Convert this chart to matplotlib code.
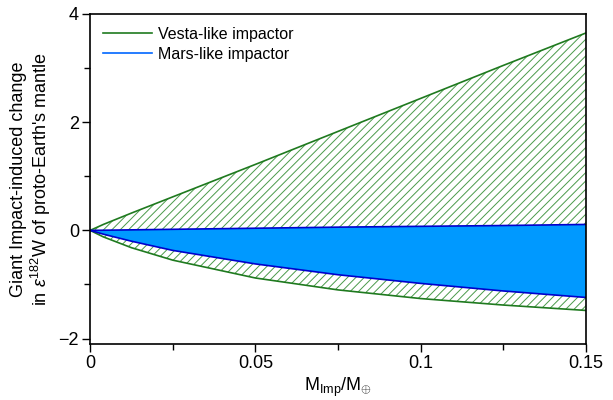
import matplotlib
matplotlib.use("Agg")
import matplotlib.pyplot as plt
from matplotlib.ticker import MultipleLocator
from matplotlib.lines import Line2D

plt.rcParams['font.family'] = ['Liberation Sans', 'DejaVu Sans']
plt.rcParams['mathtext.fontset'] = 'custom'
plt.rcParams['mathtext.rm'] = 'Liberation Sans'
plt.rcParams['mathtext.it'] = 'Liberation Sans:italic'
plt.rcParams['hatch.linewidth'] = 0.7

# impactor mass fraction
mass = [0, 0.004, 0.0125, 0.025, 0.05, 0.075, 0.1, 0.125, 0.15]
# Vesta-like impactor envelope
vesta_hi = [0, 0.11, 0.32, 0.62, 1.22, 1.83, 2.44, 3.05, 3.65]
vesta_lo = [0, -0.12, -0.32, -0.55, -0.88, -1.10, -1.26, -1.38, -1.48]
# Mars-like impactor envelope
mars_hi = [0, 0.003, 0.01, 0.02, 0.04, 0.06, 0.075, 0.09, 0.11]
mars_lo = [0, -0.07, -0.20, -0.37, -0.62, -0.82, -0.98, -1.12, -1.24]

green = '#1f7a1f'
fig = plt.figure(figsize=(6.13, 4.0), dpi=100)
ax = fig.add_axes([0.147, 0.14, 0.809, 0.825])

ax.fill_between(mass, vesta_lo, vesta_hi, facecolor='none', edgecolor='#4a9a4a',
                hatch='////', linewidth=0)
ax.plot(mass, vesta_hi, color=green, lw=1.2)
ax.plot(mass, vesta_lo, color=green, lw=1.2)
ax.fill_between(mass, mars_lo, mars_hi, facecolor='#0099ff', edgecolor='none')
ax.plot(mass, mars_hi, color='#0000cc', lw=1.2)
ax.plot(mass, mars_lo, color='#0000cc', lw=1.2)

handles = [Line2D([], [], color=green, lw=1.2),
           Line2D([], [], color='#0066ff', lw=1.2)]
ax.legend(handles, ['Vesta-like impactor', 'Mars-like impactor'],
          loc='upper left', frameon=False, fontsize=11.5, handlelength=3.1,
          handletextpad=0.35, borderaxespad=0.4, labelspacing=0.3)

ax.set_xlim(0, 0.15)
ax.set_ylim(-2.1, 4)
ax.set_xticks([0, 0.05, 0.1, 0.15])
ax.set_xticklabels(['0', '0.05', '0.1', '0.15'])
ax.set_yticks([-2, 0, 2, 4])
ax.set_yticklabels(['\u22122', '0', '2', '4'])
ax.xaxis.set_minor_locator(MultipleLocator(0.025))
ax.yaxis.set_minor_locator(MultipleLocator(1))
ax.tick_params(which='major', length=6, width=1, labelsize=13, direction='out', pad=2)
ax.tick_params(which='minor', length=4, width=1, direction='out')
for s in ax.spines.values():
    s.set_linewidth(1.2)

ax.set_xlabel(r'M$_{\rm Imp}$/M$_{\oplus}$', fontsize=13, labelpad=3)
ax.set_ylabel("Giant Impact-induced change\nin $\\varepsilon^{182}$W of proto-Earth's mantle",
              fontsize=13, linespacing=1.1, labelpad=4)

fig.savefig('out.png', dpi=100)
